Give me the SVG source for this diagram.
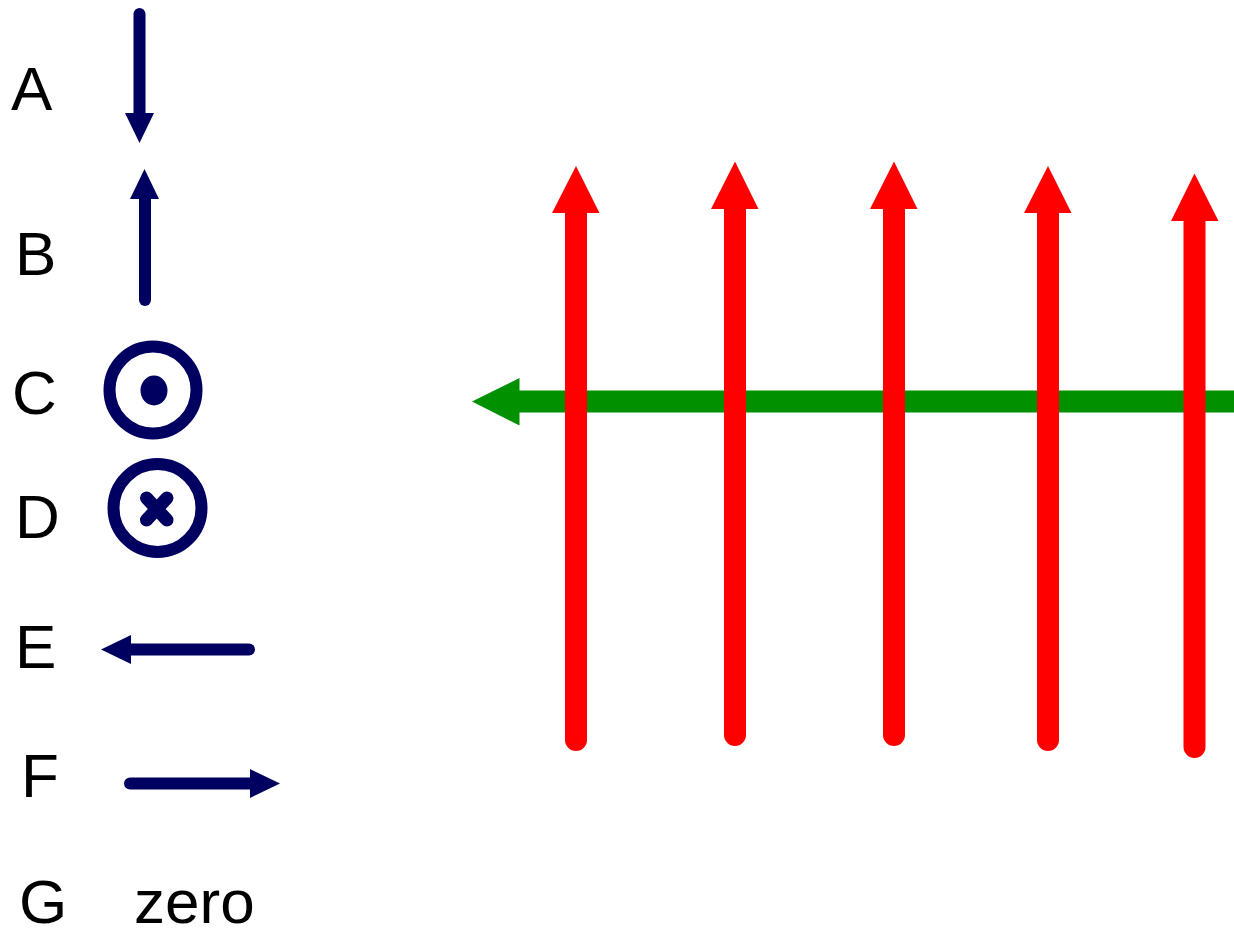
<svg xmlns="http://www.w3.org/2000/svg" width="1234" height="931" viewBox="0 0 1234 931">
<style>
.lbl{font-family:"Liberation Sans",Arial,sans-serif;font-size:62px;fill:#000}
.nv{stroke:#000060;stroke-width:12;stroke-linecap:round;fill:none}
.nvf{fill:#000060}
.red{stroke:#ff0000;stroke-width:22;stroke-linecap:round;fill:none}
.redf{fill:#ff0000}
.grn{stroke:#009000;stroke-width:22;fill:none}
.grnf{fill:#009000}
</style>
<rect width="1234" height="931" fill="#fff"/>
<g id="legend-A">
<text class="lbl" x="11" y="110">A</text>
<line class="nv" x1="139.5" y1="14" x2="139.5" y2="114"/>
<polygon class="nvf" points="125,113 154,113 139.5,143"/>
</g>
<g id="legend-B">
<text class="lbl" x="15" y="275">B</text>
<line class="nv" x1="145" y1="300" x2="145" y2="198"/>
<polygon class="nvf" points="130,199 159,199 144.5,169"/>
</g>
<g id="legend-C">
<text class="lbl" x="12" y="414">C</text>
<circle class="nv" cx="153" cy="390" r="43.5"/>
<ellipse class="nvf" cx="154" cy="390.5" rx="13.5" ry="15"/>
</g>
<g id="legend-D">
<text class="lbl" x="15" y="538">D</text>
<circle class="nv" cx="157.5" cy="508" r="44"/>
<line class="nv" style="stroke-width:13" x1="146.5" y1="498" x2="167" y2="520"/>
<line class="nv" style="stroke-width:13" x1="167" y1="498" x2="146.5" y2="520"/>
</g>
<g id="legend-E">
<text class="lbl" x="15" y="668">E</text>
<line class="nv" x1="249" y1="649.5" x2="130" y2="649.5"/>
<polygon class="nvf" points="101,649.5 131,635 131,664"/>
</g>
<g id="legend-F">
<text class="lbl" x="21" y="797">F</text>
<line class="nv" x1="130" y1="783.5" x2="251" y2="783.5"/>
<polygon class="nvf" points="250,769 250,798 280,783.5"/>
</g>
<g id="legend-G">
<text class="lbl" x="19" y="923">G</text>
<text class="lbl" x="134" y="923">zero</text>
</g>
<g id="connectors">
<line class="grn" x1="518" y1="401.5" x2="1234" y2="401.5"/>
<polygon class="grnf" points="472,401.5 519.5,378 519.5,425.5"/>
<line class="red" x1="576" y1="740" x2="576" y2="212"/>
<polygon class="redf" points="552,213 599.5,213 576,166"/>
<line class="red" x1="735" y1="735" x2="735" y2="208"/>
<polygon class="redf" points="711,209 758.5,209 735,161.5"/>
<line class="red" x1="894" y1="735" x2="894" y2="208"/>
<polygon class="redf" points="870,209 917.5,209 894,161.5"/>
<line class="red" x1="1048" y1="740" x2="1048" y2="212"/>
<polygon class="redf" points="1024,213 1071.5,213 1048,166"/>
<line class="red" x1="1194.5" y1="747" x2="1194.5" y2="220"/>
<polygon class="redf" points="1171,221 1218.5,221 1194.5,173.5"/>
</g>
</svg>
